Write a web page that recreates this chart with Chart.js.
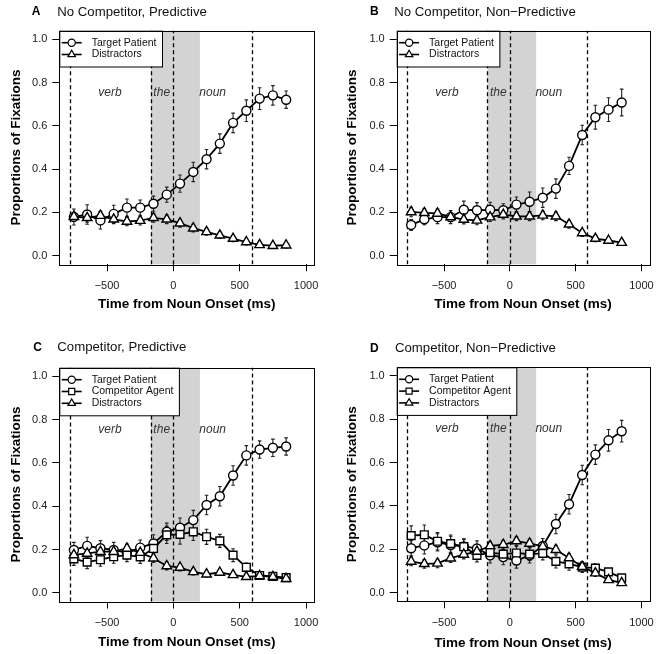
<!DOCTYPE html>
<html><head><meta charset="utf-8">
<script src="https://cdn.jsdelivr.net/npm/chart.js@4.4.1/dist/chart.umd.min.js"></script>
<style>
html,body{margin:0;padding:0;background:#fff;}
#wrap{position:relative;width:662px;height:654px;overflow:hidden;}
canvas{position:absolute;left:0;top:0;}
</style></head><body><div id="wrap">
<canvas id="cA" width="662" height="654"></canvas>
<canvas id="cB" width="662" height="654"></canvas>
<canvas id="cC" width="662" height="654"></canvas>
<canvas id="cD" width="662" height="654"></canvas>
</div>
<script>
// ---- data ----
const times = [-750,-650,-550,-450,-350,-250,-150,-50,50,150,250,350,450,550,650,750,850];
const xTicks = [-500,0,500,1000];
const yTicks = [0,0.2,0.4,0.6,0.8,1.0];
const regionBounds = [-780,-170,0,590];
const shadeRange = [-170,200];
const regionLabels = ['verb','the','noun'];
const regionLabelX = [-478,-88,296];
const regionLabelY = 0.755;

const targetA = [0.179,0.19,0.163,0.193,0.222,0.222,0.24,0.282,0.333,0.387,0.446,0.518,0.614,0.67,0.726,0.741,0.721];
const targetA_se = [0.037,0.045,0.04,0.04,0.04,0.035,0.035,0.035,0.04,0.045,0.045,0.045,0.045,0.05,0.05,0.045,0.04];
const distrA = [0.18,0.175,0.185,0.168,0.158,0.162,0.175,0.168,0.15,0.127,0.11,0.094,0.079,0.063,0.05,0.046,0.048];
const distrA_se = [0.02,0.02,0.02,0.02,0.02,0.02,0.02,0.02,0.018,0.018,0.016,0.015,0.014,0.013,0.012,0.012,0.012];

const targetB = [0.142,0.168,0.178,0.178,0.212,0.21,0.212,0.21,0.236,0.249,0.268,0.31,0.415,0.558,0.64,0.675,0.708];
const targetB_se = [0.025,0.025,0.03,0.03,0.04,0.035,0.035,0.03,0.035,0.045,0.045,0.045,0.04,0.045,0.055,0.055,0.062];
const distrB = [0.202,0.198,0.195,0.179,0.167,0.163,0.178,0.19,0.182,0.182,0.186,0.182,0.145,0.105,0.079,0.07,0.06];
const distrB_se = [0.022,0.02,0.02,0.02,0.02,0.02,0.02,0.02,0.02,0.02,0.02,0.02,0.018,0.016,0.014,0.013,0.012];

const targetC = [0.198,0.217,0.206,0.198,0.185,0.209,0.228,0.282,0.301,0.336,0.406,0.446,0.542,0.635,0.662,0.67,0.676];
const targetC_se = [0.035,0.04,0.035,0.035,0.03,0.035,0.04,0.04,0.045,0.045,0.045,0.045,0.045,0.045,0.04,0.04,0.04];
const compC = [0.157,0.142,0.153,0.167,0.174,0.166,0.205,0.268,0.27,0.282,0.259,0.24,0.174,0.118,0.08,0.076,0.07];
const compC_se = [0.03,0.03,0.03,0.03,0.03,0.03,0.035,0.04,0.045,0.04,0.035,0.03,0.03,0.02,0.015,0.015,0.013];
const distrC = [0.175,0.182,0.19,0.19,0.205,0.186,0.16,0.124,0.117,0.097,0.086,0.094,0.083,0.074,0.078,0.074,0.065];
const distrC_se = [0.02,0.02,0.02,0.02,0.02,0.02,0.02,0.018,0.016,0.014,0.013,0.012,0.012,0.012,0.011,0.011,0.01];

const targetD = [0.205,0.218,0.232,0.22,0.213,0.204,0.172,0.164,0.148,0.172,0.215,0.317,0.408,0.543,0.637,0.703,0.745];
const targetD_se = [0.035,0.04,0.04,0.04,0.035,0.035,0.035,0.035,0.035,0.035,0.035,0.045,0.045,0.045,0.045,0.05,0.05];
const compD = [0.263,0.267,0.237,0.226,0.212,0.172,0.185,0.178,0.183,0.178,0.181,0.144,0.133,0.118,0.113,0.096,0.068];
const compD_se = [0.045,0.045,0.04,0.04,0.035,0.03,0.03,0.03,0.03,0.03,0.03,0.03,0.03,0.025,0.02,0.015,0.013];
const distrD = [0.144,0.133,0.135,0.159,0.176,0.19,0.216,0.221,0.238,0.227,0.213,0.198,0.16,0.12,0.09,0.059,0.045];
const distrD_se = [0.02,0.02,0.02,0.02,0.02,0.02,0.02,0.02,0.02,0.02,0.02,0.02,0.02,0.018,0.015,0.012,0.01];

const FAM = '"Liberation Sans", Arial, Helvetica, sans-serif';

function series(label, vals, se, style, order) {
  return {
    label, data: times.map((t,i)=>({x:t, y:vals[i]})), errors: se,
    borderColor:'#000', backgroundColor:'#fff', borderWidth:1.8,
    pointStyle: style, pointRadius: style==='circle'?4.5:5.5,
    pointBorderWidth:1.4, pointBackgroundColor:'#fff', pointBorderColor:'#000',
    tension:0, fill:false, order
  };
}

const decor = {
  id:'decor',
  beforeDatasetsDraw(chart){
    const {ctx, chartArea:ca, scales:{x,y}} = chart;
    ctx.save();
    ctx.fillStyle = '#d3d3d3';
    const s0 = x.getPixelForValue(shadeRange[0]), s1 = x.getPixelForValue(shadeRange[1]);
    ctx.fillRect(s0, ca.top, s1-s0, ca.bottom-ca.top);
    ctx.strokeStyle='#000'; ctx.lineWidth=1.3; ctx.setLineDash([4,3]);
    regionBounds.forEach(b=>{const px=Math.round(x.getPixelForValue(b))+0.5; ctx.beginPath(); ctx.moveTo(px, ca.bottom); ctx.lineTo(px, ca.top); ctx.stroke();});
    ctx.setLineDash([]);
    ctx.font = 'italic 12px '+FAM; ctx.fillStyle='#333'; ctx.textAlign='center'; ctx.textBaseline='middle';
    regionLabels.forEach((t,i)=>ctx.fillText(t, x.getPixelForValue(regionLabelX[i]), y.getPixelForValue(regionLabelY)));
    ctx.strokeStyle='#222'; ctx.lineWidth=1.1;
    chart.data.datasets.forEach(ds=>{
      ds.data.forEach((p,i)=>{
        const px = x.getPixelForValue(p.x);
        const ya = y.getPixelForValue(p.y - ds.errors[i]), yb = y.getPixelForValue(p.y + ds.errors[i]);
        ctx.beginPath();
        ctx.moveTo(px, ya); ctx.lineTo(px, yb);
        ctx.moveTo(px-1.8, ya); ctx.lineTo(px+1.8, ya);
        ctx.moveTo(px-1.8, yb); ctx.lineTo(px+1.8, yb);
        ctx.stroke();
      });
    });
    ctx.restore();
  },
  afterDatasetsDraw(chart){
    const {ctx, chartArea:ca} = chart;
    const items = chart.data.datasets.slice().sort((a,b)=>b.order-a.order);
    ctx.save();
    ctx.font = '10.5px '+FAM;
    const maxW = Math.max(...items.map(d=>ctx.measureText(d.label).width));
    const w = 32.4 + maxW + 5.5, h = 12 + 11.8*(items.length-1) + 12;
    ctx.fillStyle='#fff'; ctx.fillRect(ca.left, ca.top, w, h);
    ctx.strokeStyle='#000'; ctx.lineWidth=1; ctx.strokeRect(ca.left+0.5, ca.top+0.5, w, h);
    items.forEach((d,i)=>{
      const yy = ca.top + 12 + 11.8*i;
      ctx.strokeStyle='#000'; ctx.lineWidth=1.6;
      ctx.beginPath(); ctx.moveTo(ca.left+2.4, yy); ctx.lineTo(ca.left+22.4, yy); ctx.stroke();
      ctx.fillStyle='#fff'; ctx.lineWidth=1.2;
      Chart.helpers.drawPoint(ctx, {pointStyle:d.pointStyle, rotation:0, radius: d.pointStyle==='circle'?3.6:4.3, borderWidth:1.2}, ca.left+12.4, yy);
      ctx.fillStyle='#111'; ctx.textAlign='left'; ctx.textBaseline='middle';
      ctx.fillText(d.label, ca.left+32.4, yy);
    });
    ctx.strokeStyle='#000'; ctx.lineWidth=1;
    ctx.strokeRect(Math.round(ca.left)+0.5, Math.round(ca.top)+0.5, Math.round(ca.right-ca.left), Math.round(ca.bottom-ca.top));
    ctx.restore();
  },
  afterDraw(chart){
    const spec = chart.options.plugins.decor;
    const ctx = chart.ctx;
    ctx.save();
    ctx.fillStyle='#000'; ctx.textBaseline='middle';
    ctx.font='bold 12px '+FAM; ctx.textAlign='center';
    ctx.fillText(spec.letter, spec.letterX, spec.titleY);
    ctx.font='13.2px '+FAM; ctx.textAlign='left'; ctx.fillStyle='#111';
    ctx.fillText(spec.title, spec.titleX, spec.titleY);
    ctx.restore();
  }
};

function makePanel(id, spec, datasets){
  const yAxisW = spec.left - (spec.yTitleX - 8.1);
  const xAxisH = spec.xTitleY + 8.1 - spec.bottom;
  new Chart(document.getElementById(id), {
    type:'line',
    data:{datasets},
    options:{
      responsive:false, animation:false, devicePixelRatio:1,
      layout:{padding:{left: spec.left - yAxisW, top: spec.top, right: 662 - spec.right, bottom: 654 - spec.bottom - xAxisH}},
      plugins:{legend:{display:false}, tooltip:{enabled:false}, decor: spec},
      scales:{
        x:{type:'linear', min:-860, max:1060,
          afterBuildTicks:s=>{s.ticks = xTicks.map(v=>({value:v}));},
          afterFit:s=>{s.height = xAxisH;},
          ticks:{callback:v=> v<0 ? '\u2212'+Math.abs(v) : String(v), font:{size:11, family:FAM}, color:'#222', padding:8, maxRotation:0, autoSkip:false},
          grid:{display:true, drawOnChartArea:false, drawTicks:true, tickLength:7, color:'#000', lineWidth:1},
          border:{display:false},
          title:{display:true, text:'Time from Noun Onset (ms)', font:{size:13.5, weight:'bold', family:FAM}, color:'#000', padding:0}
        },
        y:{type:'linear', min:-0.04, max:1.04,
          afterBuildTicks:s=>{s.ticks = yTicks.map(v=>({value:v}));},
          afterFit:s=>{s.width = yAxisW;},
          ticks:{callback:v=>v.toFixed(1), font:{size:11, family:FAM}, color:'#222', padding:5},
          grid:{display:true, drawOnChartArea:false, drawTicks:true, tickLength:7, color:'#000', lineWidth:1},
          border:{display:false},
          title:{display:true, text:'Proportions of Fixations', font:{size:13.5, weight:'bold', family:FAM}, color:'#000', padding:0}
        }
      }
    },
    plugins:[decor]
  });
}

makePanel('cA', {letter:'A', title:'No Competitor, Predictive', letterX:36, titleX:57.3, titleY:12,
  left:59.3, right:314, top:30.7, bottom:264.3, yTitleX:16.5, xTitleY:304}, [
  series('Target Patient', targetA, targetA_se, 'circle', 3),
  series('Distractors', distrA, distrA_se, 'triangle', 1)
]);
makePanel('cB', {letter:'B', title:'No Competitor, Non\u2212Predictive', letterX:374.3, titleX:394.3, titleY:12,
  left:396.7, right:650.7, top:30.7, bottom:264.3, yTitleX:352.7, xTitleY:304}, [
  series('Target Patient', targetB, targetB_se, 'circle', 3),
  series('Distractors', distrB, distrB_se, 'triangle', 1)
]);
makePanel('cC', {letter:'C', title:'Competitor, Predictive', letterX:37.5, titleX:57.3, titleY:347.7,
  left:59.3, right:314, top:367.7, bottom:601.5, yTitleX:16.5, xTitleY:642.7}, [
  series('Target Patient', targetC, targetC_se, 'circle', 3),
  series('Competitor Agent', compC, compC_se, 'rect', 2),
  series('Distractors', distrC, distrC_se, 'triangle', 1)
]);
makePanel('cD', {letter:'D', title:'Competitor, Non\u2212Predictive', letterX:374.3, titleX:395, titleY:348.3,
  left:396.7, right:650.7, top:367.3, bottom:601.3, yTitleX:352.7, xTitleY:643}, [
  series('Target Patient', targetD, targetD_se, 'circle', 3),
  series('Competitor Agent', compD, compD_se, 'rect', 2),
  series('Distractors', distrD, distrD_se, 'triangle', 1)
]);
</script>
</body></html>
